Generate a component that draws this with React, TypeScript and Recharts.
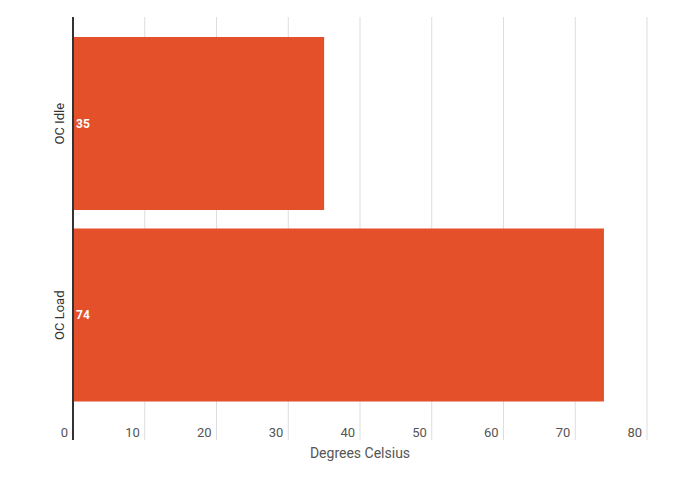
import { BarChart, Bar, XAxis, YAxis, CartesianGrid, LabelList } from 'recharts';

const categories = ['OC Idle', 'OC Load'];
const temps = [35, 74];
const xTicks = [0, 10, 20, 30, 40, 50, 60, 70, 80];

const data = categories.map((name, i) => ({ name, temp: temps[i] }));

const XTick = (props: any) => {
  const { x, y, payload } = props;
  return (
    <text x={x - 5} y={y - 3} textAnchor="end" fill="#555" fontSize={13}>
      {payload.value}
    </text>
  );
};

const YTick = (props: any) => {
  const { x, y, payload } = props;
  return (
    <text
      x={x - 9}
      y={y}
      textAnchor="middle"
      fill="#333"
      fontSize={13}
      transform={`rotate(-90, ${x - 9}, ${y})`}
    >
      {payload.value}
    </text>
  );
};

export default function App() {
  return (
    <div style={{ position: 'absolute', left: 0, top: 0, background: '#fff' }}>
      <BarChart
        width={696}
        height={489}
        data={data}
        layout="vertical"
        margin={{ top: 17, right: 49, bottom: 19, left: 43 }}
        barSize={173}
        style={{ fontFamily: 'Roboto, sans-serif' }}
      >
        <CartesianGrid horizontal={false} stroke="#ddd" />
        <XAxis
          type="number"
          domain={[0, 80]}
          ticks={xTicks}
          axisLine={false}
          tickLine={false}
          tickSize={0}
          tickMargin={0}
          height={30}
          tick={<XTick />}
          label={{ value: 'Degrees Celsius', position: 'insideBottom', offset: 12, fill: '#555', fontSize: 14 }}
        />
        <YAxis
          type="category"
          dataKey="name"
          width={30}
          padding={{ top: 11, bottom: 29 }}
          axisLine={{ stroke: '#333', strokeWidth: 2 }}
          tickLine={false}
          tickSize={0}
          tickMargin={0}
          tick={<YTick />}
        />
        <Bar dataKey="temp" fill="#E4502A" isAnimationActive={false}>
          <LabelList dataKey="temp" position="insideLeft" offset={3} fill="#fff" fontWeight="bold" fontSize={12} />
        </Bar>
      </BarChart>
    </div>
  );
}
